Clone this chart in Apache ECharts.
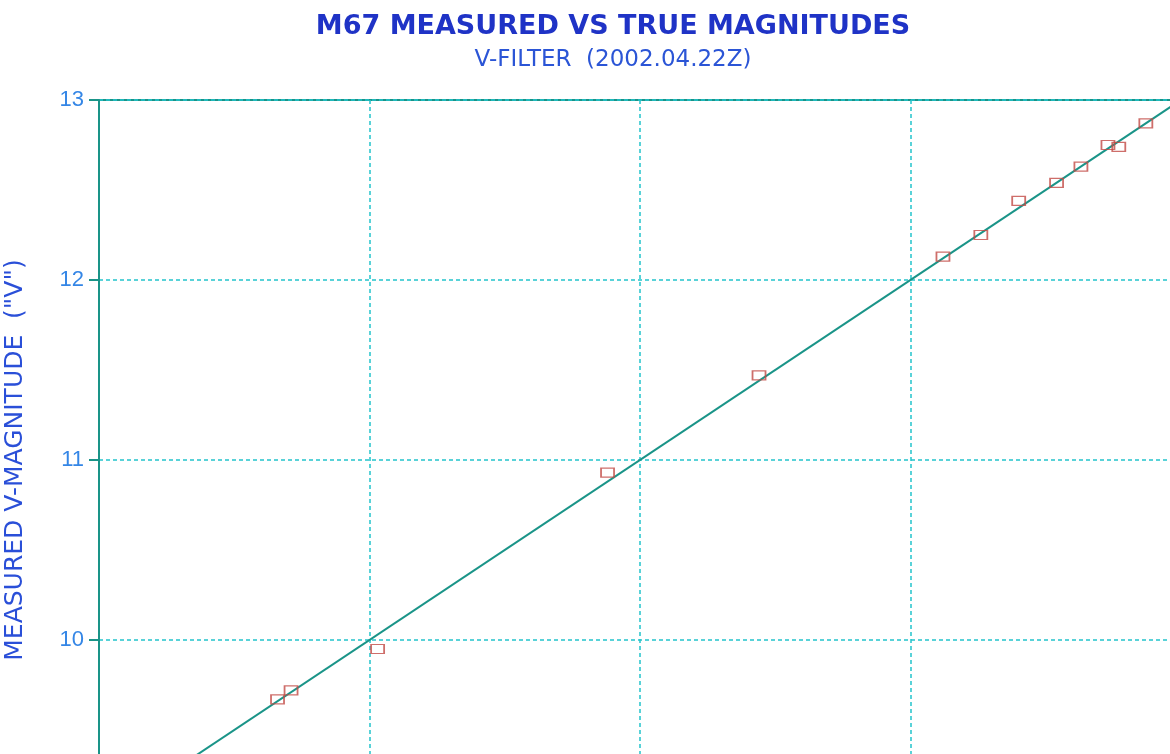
<!DOCTYPE html>
<html>
<head>
<meta charset="utf-8">
<script src="https://cdn.jsdelivr.net/npm/echarts@6/dist/echarts.min.js"></script>
<style>
  html, body { margin: 0; padding: 0; background: #fff; }
  #chart { width: 1170px; height: 754px; }
</style>
</head>
<body>
<div id="chart"></div>
<script>
// M67 测光：实测星等 vs 真实星等 (V 滤镜)
const trueMag = [9.66, 9.71, 10.03, 10.88, 11.44, 12.12, 12.26, 12.40, 12.54, 12.63, 12.73, 12.77, 12.87];
const measuredMag = [9.67, 9.72, 9.95, 10.93, 11.47, 12.13, 12.25, 12.44, 12.54, 12.63, 12.75, 12.74, 12.87];
// 参考线 y = x
const refLine = [[9, 9], [13, 13]];
const yTicks = [9, 10, 11, 12, 13];

const chart = echarts.init(document.getElementById('chart'));

const points = trueMag.map((x, i) => [x, measuredMag[i]]);
const teal = '#1a9488';
const gridCyan = '#23c3cb';

const option = {
  backgroundColor: '#fff',
  animation: false,
  graphic: [
    {
      type: 'text', x: 613, y: 27,
      style: {
        text: 'M67 MEASURED VS TRUE MAGNITUDES',
        font: 'bold 27px "DejaVu Sans"',
        fill: '#1f33c6',
        textAlign: 'center', textVerticalAlign: 'middle'
      }
    },
    {
      type: 'text', x: 613, y: 60,
      style: {
        text: 'V-FILTER  (2002.04.22Z)',
        font: '23px "DejaVu Sans"',
        fill: '#2b55d6',
        textAlign: 'center', textVerticalAlign: 'middle'
      }
    }
  ],
  grid: {
    left: 99, top: 100, width: 1082, height: 720,
    outerBoundsMode: 'none',
    containLabel: false,
    show: true, borderColor: teal, borderWidth: 2
  },
  xAxis: {
    type: 'value', min: 9, max: 13, interval: 1,
    axisLine: { lineStyle: { color: teal, width: 2 } },
    axisTick: { show: false },
    axisLabel: { show: false },
    splitLine: { lineStyle: { color: gridCyan, type: [4, 3], width: 1.5 } }
  },
  yAxis: {
    type: 'value', min: yTicks[0], max: yTicks[yTicks.length - 1], interval: 1,
    name: 'MEASURED V-MAGNITUDE  ("V")',
    nameLocation: 'middle', nameRotate: 90, nameGap: 71,
    nameTextStyle: { color: '#2a4fd8', fontSize: 25, fontFamily: 'DejaVu Sans' },
    axisLine: { lineStyle: { color: teal, width: 2 } },
    axisTick: { show: true, length: 10, lineStyle: { color: teal, width: 2 } },
    axisLabel: {
      color: '#3486e6', fontSize: 22, fontFamily: 'Liberation Sans', margin: 15,
      formatter: v => yTicks.includes(v) ? String(v) : ''
    },
    splitLine: { lineStyle: { color: gridCyan, type: [4, 3], width: 1.5 } }
  },
  series: [
    {
      type: 'line',
      data: refLine,
      showSymbol: false,
      lineStyle: { color: teal, width: 2 },
      z: 2
    },
    {
      type: 'scatter',
      data: points,
      symbol: 'rect',
      symbolSize: [13, 9],
      itemStyle: { color: 'rgba(255,255,255,0)', borderColor: '#c24a45', borderWidth: 1.5 },
      z: 3
    }
  ]
};

chart.setOption(option);
</script>
</body>
</html>
